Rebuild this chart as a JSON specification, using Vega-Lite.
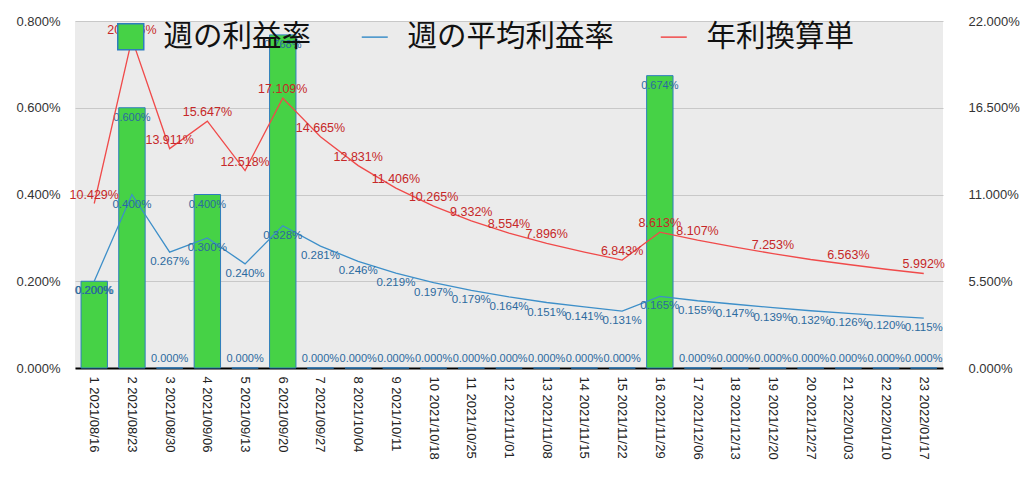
{
  "$schema": "https://vega.github.io/schema/vega-lite/v6.json",
  "width": 868,
  "height": 347,
  "autosize": "none",
  "padding": {"left": 75, "top": 21, "right": 81, "bottom": 110},
  "background": "white",
  "config": {
    "view": {"fill": "#ebebeb", "stroke": null},
    "font": "Liberation Sans",
    "axis": {"labelFont": "Liberation Sans", "labelFontSize": 13, "labelColor": "#333333", "title": null},
    "legend": {
      "orient": "none", "legendY": 1, "direction": "horizontal", "title": null,
      "labelFont": "Noto Sans CJK JP", "labelFontSize": 29.5, "labelColor": "#111111", "labelLimit": 500,
      "labelOffset": 18, "columnPadding": 50, "symbolSize": 676, "padding": 0, "symbolStrokeWidth": 1.5
    }
  },
  "data": {
    "values": [
      {"w": "1 2021/08/16", "p": 0.002, "a": 0.002, "y": 0.10429, "s": 1},
      {"w": "2 2021/08/23", "p": 0.006, "a": 0.004, "y": 0.20866, "s": 1},
      {"w": "3 2021/08/30", "p": 0, "a": 0.00267, "y": 0.13911, "s": 1},
      {"w": "4 2021/09/06", "p": 0.004, "a": 0.003, "y": 0.15647, "s": 1},
      {"w": "5 2021/09/13", "p": 0, "a": 0.0024, "y": 0.12518, "s": 1},
      {"w": "6 2021/09/20", "p": 0.00768, "a": 0.00328, "y": 0.17109, "s": 1},
      {"w": "7 2021/09/27", "p": 0, "a": 0.00281, "y": 0.14665, "s": 1},
      {"w": "8 2021/10/04", "p": 0, "a": 0.00246, "y": 0.12831, "s": 1},
      {"w": "9 2021/10/11", "p": 0, "a": 0.00219, "y": 0.11406, "s": 1},
      {"w": "10 2021/10/18", "p": 0, "a": 0.00197, "y": 0.10265, "s": 1},
      {"w": "11 2021/10/25", "p": 0, "a": 0.00179, "y": 0.09332, "s": 1},
      {"w": "12 2021/11/01", "p": 0, "a": 0.00164, "y": 0.08554, "s": 1},
      {"w": "13 2021/11/08", "p": 0, "a": 0.00151, "y": 0.07896, "s": 1},
      {"w": "14 2021/11/15", "p": 0, "a": 0.00141, "y": 0.0735, "s": 0},
      {"w": "15 2021/11/22", "p": 0, "a": 0.00131, "y": 0.06843, "s": 1},
      {"w": "16 2021/11/29", "p": 0.00674, "a": 0.00165, "y": 0.08613, "s": 1},
      {"w": "17 2021/12/06", "p": 0, "a": 0.00155, "y": 0.08107, "s": 1},
      {"w": "18 2021/12/13", "p": 0, "a": 0.00147, "y": 0.0766, "s": 0},
      {"w": "19 2021/12/20", "p": 0, "a": 0.00139, "y": 0.07253, "s": 1},
      {"w": "20 2021/12/27", "p": 0, "a": 0.00132, "y": 0.0688, "s": 0},
      {"w": "21 2022/01/03", "p": 0, "a": 0.00126, "y": 0.06563, "s": 1},
      {"w": "22 2022/01/10", "p": 0, "a": 0.0012, "y": 0.0626, "s": 0},
      {"w": "23 2022/01/17", "p": 0, "a": 0.00115, "y": 0.05992, "s": 1}
    ]
  },
  "encoding": {
    "x": {
      "field": "w", "type": "nominal", "sort": null,
      "scale": {"paddingInner": 0.3, "paddingOuter": 0.16},
      "axis": {"labelAngle": 90, "labelAlign": "left", "labelBaseline": "middle", "labelPadding": 8, "ticks": false, "domain": true, "domainColor": "#000000", "domainWidth": 2, "labelColor": "#222222"}
    }
  },
  "layer": [
    {
      "encoding": {
        "y": {
          "type": "quantitative",
          "scale": {"domain": [0, 0.008], "nice": false},
          "axis": {"orient": "left", "values": [0, 0.002, 0.004, 0.006, 0.008], "format": ".3%", "grid": true, "gridColor": "#c8c8c8", "gridWidth": 1, "domain": false, "ticks": false, "labelPadding": 15}
        }
      },
      "layer": [
        {
          "mark": {"type": "bar", "stroke": "#2e7dbd", "strokeWidth": 1},
          "encoding": {
            "y": {"field": "p"},
            "fill": {
              "datum": "週の利益率",
              "scale": {"domain": ["週の利益率"], "range": ["#46d246"]},
              "legend": {"legendX": 41, "symbolType": "square", "symbolStrokeColor": "#2e7dbd"}
            }
          }
        },
        {
          "transform": [{"filter": "datum.p > 0"}],
          "mark": {"type": "text", "baseline": "middle", "dy": 10, "fontSize": 11, "color": "#2b6a9f"},
          "encoding": {"y": {"field": "p"}, "text": {"field": "p", "format": ".3%"}}
        },
        {
          "transform": [{"filter": "datum.p == 0"}],
          "mark": {"type": "text", "baseline": "middle", "dy": -9, "fontSize": 11, "color": "#2b6a9f"},
          "encoding": {"y": {"field": "p"}, "text": {"field": "p", "format": ".3%"}}
        },
        {
          "mark": {"type": "line", "strokeWidth": 1.3},
          "encoding": {
            "y": {"field": "a"},
            "stroke": {
              "datum": "週の平均利益率",
              "scale": {"domain": ["週の平均利益率", "年利換算単"], "range": ["#3d8fc9", "#f04a4a"]},
              "legend": {"legendX": 285, "symbolType": "stroke", "columnPadding": 42}
            }
          }
        },
        {
          "mark": {"type": "text", "baseline": "middle", "dy": 10, "fontSize": 11.5, "color": "#2b6a9f"},
          "encoding": {"y": {"field": "a"}, "text": {"field": "a", "format": ".3%"}}
        }
      ]
    },
    {
      "encoding": {
        "y": {
          "type": "quantitative",
          "scale": {"domain": [0, 0.22], "nice": false},
          "axis": {"orient": "right", "values": [0, 0.055, 0.11, 0.165, 0.22], "format": ".3%", "grid": false, "domain": false, "ticks": false, "labelPadding": 25}
        }
      },
      "layer": [
        {
          "mark": {"type": "line", "strokeWidth": 1.3},
          "encoding": {"y": {"field": "y"}, "stroke": {"datum": "年利換算単"}}
        },
        {
          "transform": [{"filter": "datum.s == 1"}],
          "mark": {"type": "text", "baseline": "middle", "dy": -9, "fontSize": 12.5, "color": "#c62828"},
          "encoding": {"y": {"field": "y"}, "text": {"field": "y", "format": ".3%"}}
        }
      ]
    }
  ],
  "resolve": {"scale": {"y": "independent"}}
}
